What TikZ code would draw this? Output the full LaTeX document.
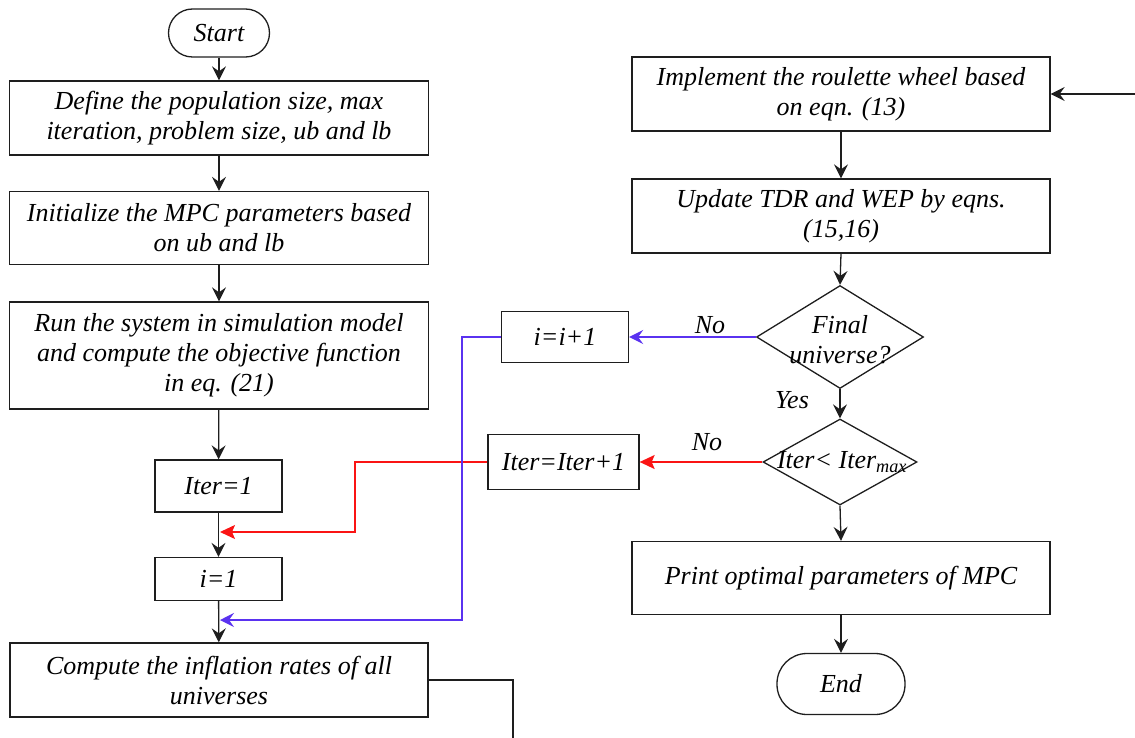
\documentclass[tikz,border=0pt]{standalone}
\usepackage{fontspec}
\setmainfont{Liberation Serif}
\usetikzlibrary{shapes.geometric,arrows.meta}
\definecolor{myred}{RGB}{250,20,20}
\definecolor{myblue}{RGB}{90,50,240}
\definecolor{linegray}{RGB}{30,30,30}
\begin{document}
\begin{tikzpicture}[x=1pt,y=-1pt,
  txtf/.style={font=\fontsize{26}{30}\selectfont\itshape},
  box/.style={draw=linegray, line width=1.3pt, align=center, inner sep=0pt, txtf},
  term/.style={box, rounded corners=24pt},
  dia/.style={draw=linegray, line width=1.3pt, diamond, inner sep=0pt},
  lbl/.style={txtf, inner sep=0pt, align=center},
  arr/.style={draw=linegray, line width=1.3pt, -{Stealth[length=14pt,width=14pt,inset=5pt]}},
  plain/.style={draw=linegray, line width=1.3pt},
  rarr/.style={draw=myred, line width=1.5pt, -{Stealth[length=15pt,width=14pt,inset=3pt]}},
  barr/.style={draw=myblue, line width=1.5pt, -{Stealth[length=14pt,width=14pt,inset=5pt]}}
]
\useasboundingbox (0,0) rectangle (1135,738);
% left column
\node[term, minimum width=101pt, minimum height=48pt] (start) at (219,33) {Start};
\node[box, minimum width=419pt, minimum height=74pt] (b1) at (219,118) {Define the population size, max\\iteration, problem size, ub and lb};
\node[box, minimum width=419pt, minimum height=73pt] (b2) at (219,228) {Initialize the MPC parameters based\\on ub and lb};
\node[box, minimum width=419pt, minimum height=107pt] (b3) at (219,355.5) {Run the system in simulation model\\and compute the objective function\\in eq. (21)};
\node[box, minimum width=127pt, minimum height=52pt] (it1) at (218.5,486) {Iter=1};
\node[box, minimum width=127pt, minimum height=43pt] (i1) at (218.5,579) {i=1};
\node[box, minimum width=418pt, minimum height=74pt] (comp) at (219,680) {Compute the inflation rates of all\\universes};
% right column
\node[box, minimum width=418pt, minimum height=74pt] (impl) at (841,94) {Implement the roulette wheel based\\on eqn. (13)};
\node[box, minimum width=418pt, minimum height=74pt] (upd) at (841,216) {Update TDR and WEP by eqns.\\(15,16)};
\node[dia, minimum width=167pt, minimum height=103pt] (d1) at (840,337) {};
\node[lbl] (d1t) at (840,340) {Final\\universe?};
\node[dia, minimum width=154pt, minimum height=86pt] (d2) at (840,462) {};
\node[lbl] (d2t) at (842,462) {Iter< Iter\textsubscript{max}};
\node[box, minimum width=127pt, minimum height=51pt] (inci) at (565,337) {i=i+1};
\node[box, minimum width=151pt, minimum height=55pt] (incit) at (563.5,462) {Iter=Iter+1};
\node[box, minimum width=418pt, minimum height=73pt] (prt) at (841,578) {Print optimal parameters of MPC};
\node[term, minimum width=128pt, minimum height=61pt, rounded corners=30pt] (fin) at (841,684) {End};
% labels
\node[lbl] (no1) at (710,325) {No};
\node[lbl] (no2) at (707,442) {No};
\node[lbl] (yes) at (792,400) {Yes};
% coordinates
\coordinate (rj) at (220,532);
\coordinate (bj) at (220,620);
\coordinate (rin) at (1135,94);
\coordinate (cout) at (513,738);
% black connectors
\draw[arr] (start) -- (b1);
\draw[arr] (b1) -- (b2);
\draw[arr] (b2) -- (b3);
\draw[arr] (b3) -- (it1);
\draw[arr] (it1) -- (i1);
\draw[arr] (i1) -- (comp);
\draw[arr] (impl) -- (upd);
\draw[arr] (upd.south) -- (d1.north);
\draw[arr] (d1.south) -- (d2.north);
\draw[arr] (d2.south) -- (prt.north);
\draw[arr] (prt) -- (fin);
\draw[arr] (rin) -- (impl.east);
\draw[plain] (comp.east) -| (cout);
% colored loops
\draw[barr] (d1.west) -- (inci.east);
\draw[rarr] (d2.west) -- (incit.east);
\draw[rarr] (incit.west) -- (355,462) |- (rj);
\draw[barr] (inci.west) -- (462,337) |- (bj);
\end{tikzpicture}
\end{document}
